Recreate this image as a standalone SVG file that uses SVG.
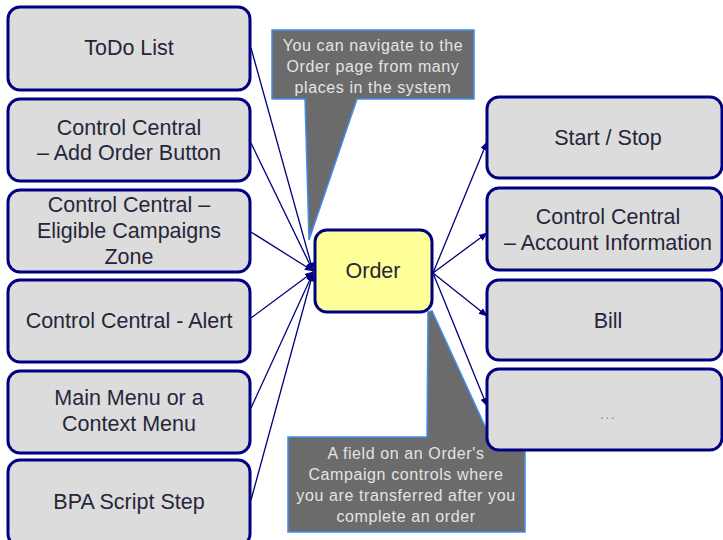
<svg xmlns="http://www.w3.org/2000/svg" width="723" height="540" viewBox="0 0 723 540">
  <defs>
    <marker id="arr" viewBox="0 0 10 10" refX="9" refY="5" markerWidth="9" markerHeight="9" markerUnits="userSpaceOnUse" orient="auto">
      <path d="M0,1 L10,5 L0,9 Z" fill="#000080"/>
    </marker>
    <style>
      .box { fill: #dcdcdc; stroke: #000080; stroke-width: 3; }
      .order { fill: #ffff99; stroke: #000080; stroke-width: 3; }
      .lbl { font-family: "Liberation Sans", Arial, sans-serif; font-size: 21.5px; fill: #26263a; text-anchor: middle; }
      .call { fill: #6b6b6b; stroke: #3f8fef; stroke-width: 1.5; }
      .ctext { font-family: "Liberation Sans", Arial, sans-serif; font-size: 16px; fill: #e4e4e4; text-anchor: middle; letter-spacing: 0.6px; }
      .conn { stroke: #000080; stroke-width: 1.3; fill: none; marker-end: url(#arr); }
    </style>
  </defs>
  <rect width="723" height="540" fill="#ffffff"/>

  <g id="callout-top">
    <path class="call" d="M272,30 H474 V99 H357 L309,240 L305,99 H272 Z"/>
    <text class="ctext" x="373" y="51">You can navigate to the</text>
    <text class="ctext" x="373" y="72">Order page  from many</text>
    <text class="ctext" x="373" y="93">places in the system</text>
  </g>

  <g id="callout-bottom">
    <path class="call" d="M288,437 H427 L428,312 L432,311 L490,437 H525 V532 H288 Z"/>
    <text class="ctext" x="406" y="459">A field on an Order's</text>
    <text class="ctext" x="406" y="480">Campaign controls where</text>
    <text class="ctext" x="406" y="501">you are transferred after you</text>
    <text class="ctext" x="406" y="522">complete an order</text>
  </g>

  <g id="connectors">
    <line class="conn" x1="251" y1="48" x2="313" y2="271"/>
    <line class="conn" x1="251" y1="143" x2="313" y2="271"/>
    <line class="conn" x1="251" y1="232" x2="313" y2="271"/>
    <line class="conn" x1="251" y1="318" x2="313" y2="272"/>
    <line class="conn" x1="251" y1="408" x2="313" y2="273"/>
    <line class="conn" x1="251" y1="500" x2="313" y2="273"/>
    <line class="conn" x1="433" y1="273" x2="487" y2="142"/>
    <line class="conn" x1="433" y1="273" x2="487" y2="233"/>
    <line class="conn" x1="433" y1="273" x2="487" y2="316"/>
    <line class="conn" x1="433" y1="273" x2="487" y2="406"/>
  </g>

  <g id="todo-list">
    <rect class="box" x="8" y="7" width="242" height="83" rx="12"/>
    <text class="lbl" x="129" y="55">ToDo List</text>
  </g>
  <g id="cc-add-order">
    <rect class="box" x="8" y="99" width="242" height="82" rx="12"/>
    <text class="lbl" x="129" y="135">Control Central</text>
    <text class="lbl" x="129" y="160">– Add Order Button</text>
  </g>
  <g id="cc-eligible">
    <rect class="box" x="8" y="190" width="242" height="82" rx="12"/>
    <text class="lbl" x="129" y="212">Control Central –</text>
    <text class="lbl" x="129" y="238">Eligible Campaigns</text>
    <text class="lbl" x="129" y="264">Zone</text>
  </g>
  <g id="cc-alert">
    <rect class="box" x="8" y="280" width="242" height="82" rx="12"/>
    <text class="lbl" x="129" y="328">Control Central - Alert</text>
  </g>
  <g id="main-menu">
    <rect class="box" x="8" y="371" width="242" height="82" rx="12"/>
    <text class="lbl" x="129" y="405">Main Menu or a</text>
    <text class="lbl" x="129" y="431">Context Menu</text>
  </g>
  <g id="bpa-script">
    <rect class="box" x="8" y="460" width="242" height="86" rx="12"/>
    <text class="lbl" x="129" y="509">BPA Script Step</text>
  </g>

  <g id="order">
    <rect class="order" x="315" y="230" width="117" height="82" rx="12"/>
    <text class="lbl" x="373" y="278">Order</text>
  </g>

  <g id="start-stop">
    <rect class="box" x="487" y="97" width="235" height="81" rx="12"/>
    <text class="lbl" x="608" y="145">Start / Stop</text>
  </g>
  <g id="cc-account">
    <rect class="box" x="487" y="188" width="235" height="82" rx="12"/>
    <text class="lbl" x="608" y="224">Control Central</text>
    <text class="lbl" x="608" y="250">– Account Information</text>
  </g>
  <g id="bill">
    <rect class="box" x="487" y="280" width="235" height="80" rx="12"/>
    <text class="lbl" x="608" y="328">Bill</text>
  </g>
  <g id="more">
    <rect class="box" x="487" y="369" width="235" height="81" rx="12"/>
    <text x="608" y="419" font-family="Liberation Sans, Arial, sans-serif" font-size="14" fill="#7f8fa6" text-anchor="middle" letter-spacing="1.5">...</text>
  </g>
</svg>
